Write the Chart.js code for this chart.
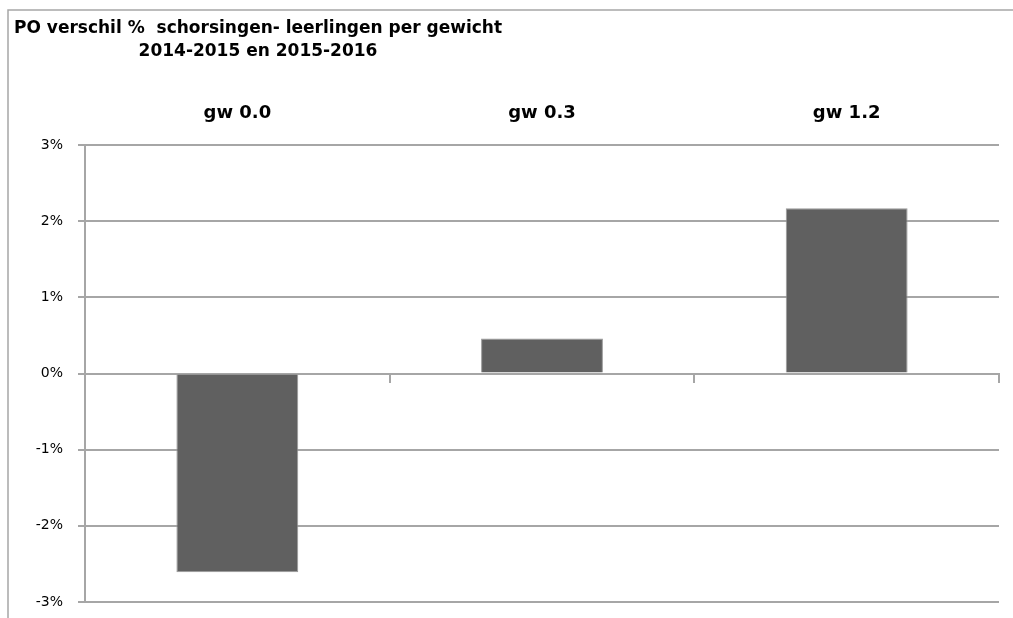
<!DOCTYPE html>
<html>
<head>
<meta charset="utf-8">
<script src="https://cdn.jsdelivr.net/npm/chart.js@4.4.1/dist/chart.umd.min.js"></script>
<style>
  html, body { margin: 0; padding: 0; background: #fff; }
  #wrap { width: 1013px; height: 618px; position: relative; }
</style>
</head>
<body>
<div id="wrap"><canvas id="chart"></canvas></div>
<script>
// data
const categories = ['gw 0.0', 'gw 0.3', 'gw 1.2'];
const verschil = [-2.61, 0.46, 2.17];
const yTicks = [-3, -2, -1, 0, 1, 2, 3];
const titleLines = ['PO verschil %  schorsingen- leerlingen per gewicht', '2014-2015 en 2015-2016'];

const lineGrey = '#a6a6a6';
Chart.defaults.font.family = 'DejaVu Sans';
Chart.defaults.color = '#000';

// frame (top and left edge) and the two-line title
const framePlugin = {
  id: 'frame',
  beforeDraw(chart) {
    const ctx = chart.ctx;
    ctx.save();
    ctx.strokeStyle = lineGrey;
    ctx.lineWidth = 1.5;
    ctx.beginPath();
    ctx.moveTo(8, chart.height);
    ctx.lineTo(8, 10);
    ctx.lineTo(chart.width, 10);
    ctx.stroke();
    ctx.restore();
  },
  afterDraw(chart) {
    const ctx = chart.ctx;
    ctx.save();
    ctx.fillStyle = '#000';
    ctx.font = 'bold 17px "DejaVu Sans"';
    ctx.textAlign = 'center';
    ctx.textBaseline = 'alphabetic';
    ctx.fillText(titleLines[0], 258, 33);
    ctx.fillText(titleLines[1], 258, 56);
    ctx.restore();
  }
};

new Chart(document.getElementById('chart'), {
  type: 'bar',
  data: {
    labels: categories,
    datasets: [{
      data: verschil,
      backgroundColor: '#606060',
      borderColor: '#999999',
      borderWidth: 1,
      barPercentage: 0.4,
      categoryPercentage: 1
    }]
  },
  options: {
    responsive: true,
    maintainAspectRatio: false,
    animation: false,
    layout: { padding: { left: 0, right: 14, top: 0, bottom: 16 } },
    plugins: {
      legend: { display: false },
      title: { display: false },
      tooltip: { enabled: false }
    },
    scales: {
      x: {
        position: 'top',
        offset: true,
        grid: { display: false, drawTicks: false },
        border: { display: false },
        ticks: { font: { size: 18, weight: 'bold' }, padding: 21 },
        afterFit: s => { s.height = 145; }
      },
      x0: {
        type: 'category',
        position: { y: 0 },
        offset: true,
        grid: { offset: true, drawOnChartArea: false, tickLength: 8, color: lineGrey, lineWidth: 2 },
        border: { color: lineGrey, width: 2 },
        ticks: { display: false },
        afterFit: s => { s.height = 0; }
      },
      y: {
        min: yTicks[0],
        max: yTicks[yTicks.length - 1],
        afterBuildTicks: s => { s.ticks = yTicks.map(v => ({ value: v })); },
        grid: { color: lineGrey, lineWidth: 2, tickLength: 7 },
        border: { color: lineGrey, width: 2 },
        ticks: { callback: v => v + '%', padding: 15, font: { size: 14 } },
        // label padding would otherwise push the plot bottom up
        afterFit: s => { s.width = 85; s.paddingBottom = 0; }
      }
    }
  },
  plugins: [framePlugin]
});
</script>
</body>
</html>
